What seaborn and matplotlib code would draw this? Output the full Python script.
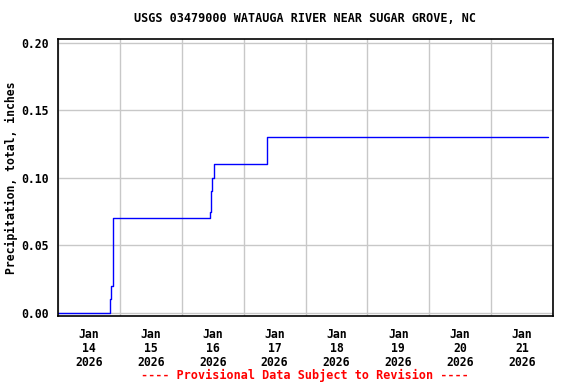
import pandas as pd
import matplotlib
matplotlib.use("Agg")
import matplotlib.pyplot as plt
import matplotlib.dates as mdates
import seaborn as sns

# readings (cumulative precip, inches)
times = ["2026-01-14 00:00", "2026-01-14 20:15", "2026-01-14 20:45",
         "2026-01-14 21:15", "2026-01-14 21:30", "2026-01-16 11:00",
         "2026-01-16 11:30", "2026-01-16 11:45", "2026-01-16 12:30",
         "2026-01-17 09:00", "2026-01-21 22:15"]
precip = [0.00, 0.01, 0.02, 0.06, 0.07, 0.075, 0.09, 0.10, 0.11, 0.13, 0.13]

title = "USGS 03479000 WATAUGA RIVER NEAR SUGAR GROVE, NC"
ylabel = "Precipitation, total, inches"
footer = "---- Provisional Data Subject to Revision ----"
yticks = [0.00, 0.05, 0.10, 0.15, 0.20]

df = pd.DataFrame({"time": pd.to_datetime(times), "precip": precip})

sns.set_style("white")
plt.rcParams['font.family'] = ['DejaVu Sans Mono']
plt.rcParams['font.weight'] = 'bold'
plt.rcParams['text.color'] = 'black'
plt.rcParams['axes.labelcolor'] = 'black'
plt.rcParams['xtick.color'] = 'black'
plt.rcParams['ytick.color'] = 'black'

fig = plt.figure(figsize=(5.76, 3.84), dpi=100)
ax = fig.add_axes([58/576, 1-316/384, 495/576, 277/384])

sns.lineplot(data=df, x="time", y="precip", ax=ax, color="#0000ff",
             linewidth=1.0, drawstyle="steps-post")

ax.set_xlim(pd.Timestamp("2026-01-14"), pd.Timestamp("2026-01-22"))
ax.set_ylim(-0.0023, 0.2028)
ax.set_yticks(yticks)
ax.set_yticklabels([f"{v:.2f}" for v in yticks])

ax.xaxis.set_major_locator(mdates.HourLocator(byhour=12))
ax.xaxis.set_major_formatter(mdates.DateFormatter("%b\n%d\n%Y"))
ax.xaxis.set_minor_locator(mdates.DayLocator())
ax.tick_params(axis="both", which="both", length=0, labelsize=8.3)
ax.tick_params(axis="x", pad=9)
ax.tick_params(axis="y", pad=7)
for lab in ax.get_xticklabels():
    lab.set_linespacing(1.1)

ax.grid(False)
ax.grid(True, axis="x", which="minor", color="#c8c8c8", linewidth=1.0)
ax.grid(True, axis="y", which="major", color="#c8c8c8", linewidth=1.0)
for s in ax.spines.values():
    s.set_color("black")
    s.set_linewidth(1.2)

ax.set_xlabel("")
ax.set_ylabel(ylabel, fontsize=8.3, fontweight="bold", labelpad=2)
fig.text(0.53, 1-19/384, title, ha="center", va="center",
         fontsize=8.5, fontweight="bold")
fig.text(0.53, 1-375/384, footer, ha="center", va="center",
         fontsize=8.5, fontweight="bold", color="red")

fig.savefig("out.png", dpi=100)
